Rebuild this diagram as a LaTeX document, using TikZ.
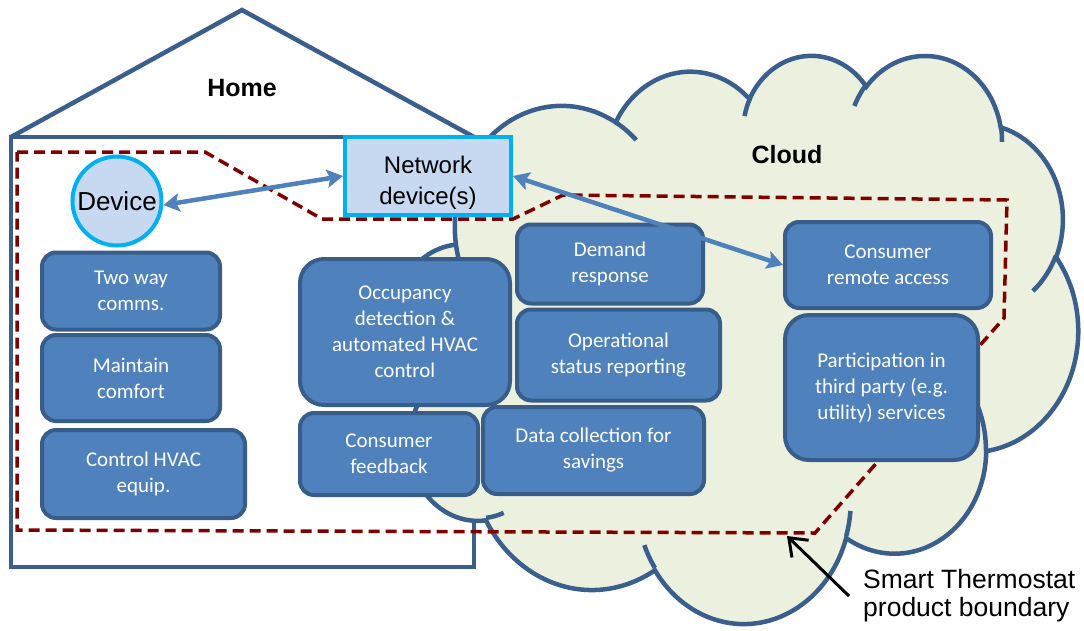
\documentclass[tikz,border=0pt]{standalone}
\usepackage{fontspec}
\setmainfont{Liberation Sans}
\newfontfamily\carlito{Carlito}
\usetikzlibrary{arrows.meta}
\definecolor{housecol}{RGB}{58,95,140}
\definecolor{cloudfill}{RGB}{235,241,222}
\definecolor{boxfill}{RGB}{79,129,189}
\definecolor{boxline}{RGB}{56,93,138}
\definecolor{devfill}{RGB}{198,217,241}
\definecolor{devline}{RGB}{0,176,240}
\definecolor{boundary}{RGB}{128,0,0}
\newcommand\boxfont{\carlito\fontsize{21}{26}\selectfont}
\newcommand\cloudarc[4]{arc[x radius=#1, y radius=#2,
  start angle={atan2((#1)*sin(#3),(#2)*cos(#3))},
  delta angle={mod(atan2((#1)*sin((#3)+(#4)),(#2)*cos((#3)+(#4)))-atan2((#1)*sin(#3),(#2)*cos(#3))+720,360)}]}

\begin{document}
\begin{tikzpicture}
      [x=1pt, y=-1pt,
      wall/.style={draw=housecol, line width=4.5pt},
      func/.style={draw=boxline, fill=boxfill, line width=4pt, rounded corners=14pt,
        text=white, font=\boxfont, align=center, inner sep=0pt},
      tall/.style={rounded corners=24pt},
      gadget/.style={draw=devline, fill=devfill, line width=4pt, align=center, inner sep=0pt,
        font=\fontsize{24}{31}\selectfont},
      link/.style={boxfill, line width=4.5pt,
        {Stealth[length=16pt,width=18pt,inset=3pt]}-{Stealth[length=16pt,width=18pt,inset=3pt]}},
      border/.style={boundary, line width=3.5pt, dash pattern=on 11pt off 6pt},
      title/.style={font=\bfseries\fontsize{25}{30}\selectfont}]
      \useasboundingbox (0,0) rectangle (1084,630);
      \draw[wall] (11,137) -- (242,10) -- (474,137);
      \draw[wall] (11,137) rectangle (474,567);
      \node[title] (home) at (242,88) {Home};
      \begin{scope}[shift={(394pt,-54pt)}, x=1.5833pt, y=-1.3148pt]
        \path[wall, fill=cloudfill] (39.00,143.70)
          \cloudarc{67.53}{91.90}{-190.4875}{123.7805}
          \cloudarc{53.33}{72.67}{-144.1024}{89.9452}
          \cloudarc{43.65}{59.45}{-145.8079}{99.7230}
          \cloudarc{48.57}{65.95}{-130.9861}{117.2417}
          \cloudarc{53.33}{72.73}{-78.7089}{109.0269}
          \cloudarc{67.75}{92.20}{-46.2673}{130.2690}
          \cloudarc{57.85}{78.67}{0.6250}{114.0333}
          \cloudarc{67.52}{92.15}{22.4516}{115.1726}
          \cloudarc{77.20}{105.43}{66.2426}{75.7110}
          \cloudarc{43.60}{59.18}{-274.9421}{146.7356}
          \cloudarc{43.45}{59.45}{-246.8285}{152.5189}
          -- cycle;
        \draw[wall]
          (46.93,261.77) \cloudarc{43.45}{59.45}{86.7420}{26.4295}
          (69.28,348.99) \cloudarc{43.60}{59.18}{73.6105}{11.4475}
          (164.78,390.90) \cloudarc{67.52}{92.15}{137.6242}{14.0811}
          (288.27,347.51) \cloudarc{67.52}{92.15}{6.4533}{15.9984}
          (341.29,229.54) \cloudarc{57.85}{78.67}{-70.2924}{70.9174}
          (417.98,153.54) \cloudarc{53.33}{72.73}{30.3180}{27.7515}
          (383.24,54.26) \cloudarc{48.57}{65.95}{-13.7443}{14.8589}
          (290.78,39.52) \cloudarc{48.57}{65.95}{-149.1815}{18.1954}
          (221.41,47.20) \cloudarc{43.65}{59.45}{-163.4943}{17.6864}
          (140.00,51.92) \cloudarc{67.53}{91.90}{-66.7070}{12.3194}
          (41.27,157.89) \cloudarc{67.53}{91.90}{157.6544}{11.8582};
      \end{scope}
      \node[title] (cloud) at (787,155) {Cloud};
      \node[gadget, minimum width=166pt, minimum height=78pt] (net) at (428,176)
        {\rule{0pt}{31pt}Network\\device(s)};
      \draw[border] (17,152) -- (205,152) -- (322,219) -- (513,219) -- (563,195) -- (1007,200)
        -- (1004,318) -- (815,533) -- (17,530) -- cycle;
      \node[func, minimum width=178pt, minimum height=77pt] (twoway) at (131,291) {Two way\\comms.};
      \node[func, minimum width=178pt, minimum height=86pt] (comfort) at (131,378) {Maintain\\comfort};
      \node[func, minimum width=203pt, minimum height=88pt] (hvac) at (143.5,474) {Control HVAC\\equip.};
      \node[func, tall, minimum width=210pt, minimum height=146pt] (occupancy) at (405,332)
        {Occupancy\\detection \&\\automated HVAC\\control};
      \node[func, minimum width=178pt, minimum height=82pt] (feedback) at (389,454) {Consumer\\feedback};
      \node[func, minimum width=186pt, minimum height=79pt] (demand) at (610,264) {Demand\\response};
      \node[func, minimum width=203pt, minimum height=91pt] (status) at (618.5,355)
        {Operational\\status reporting};
      \node[func, minimum width=221pt, minimum height=87pt] (data) at (593.5,450.5)
        {Data collection for\\savings};
      \node[func, minimum width=206pt, minimum height=86pt] (remote) at (888,265)
        {Consumer\\remote access};
      \node[func, tall, minimum width=193pt, minimum height=145pt] (thirdparty) at (881.5,387.5)
        {Participation in\\third party (e.g.\\utility) services};
      \node[gadget, circle, minimum size=89pt, font=\fontsize{26}{30}\selectfont] (dev) at (117,201) {Device};
      \draw[link] (dev.-5) -- (net.west);
      \draw[link] (net.east) -- (remote.west);
      \node[anchor=west, align=left, inner xsep=14pt, inner ysep=0pt,
        font=\fontsize{26.5}{28}\selectfont] (note) at (849,596) {Smart Thermostat\\product boundary};
      \coordinate (corner) at (787,536);
      \draw[line width=3pt, -{Straight Barb[length=16pt,width=24pt]}] (note.west) -- (corner);
    \end{tikzpicture}
\end{document}
